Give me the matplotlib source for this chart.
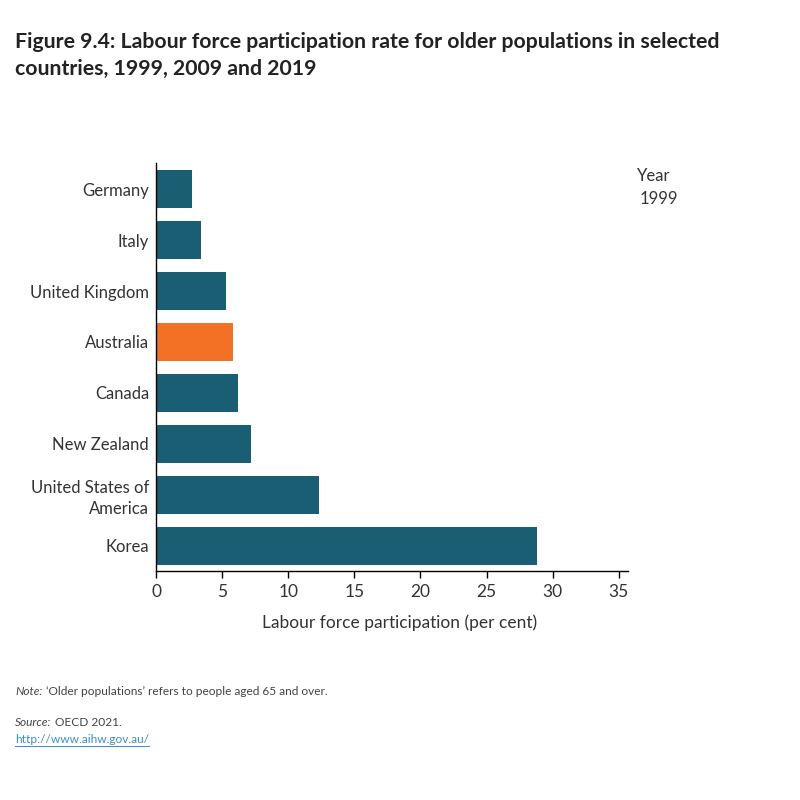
import matplotlib.pyplot as plt
from matplotlib.lines import Line2D

plt.rcParams['font.family'] = ['Lato', 'DejaVu Sans']

countries = ["Germany", "Italy", "United Kingdom", "Australia", "Canada",
             "New Zealand", "United States of\nAmerica", "Korea"]
rates_1999 = [2.7, 3.4, 5.3, 5.8, 6.2, 7.2, 12.3, 28.8]
highlight = "Australia"

teal = "#1a5e74"
orange = "#f27124"
colors = [orange if c == highlight else teal for c in countries]

fig = plt.figure(figsize=(8, 8), dpi=100)
ax = fig.add_axes([0.195, 0.286, 0.59, 0.51])

ypos = list(range(len(countries)))
ax.barh(ypos, rates_1999, height=0.745, color=colors)
ax.set_ylim(len(countries) - 0.5, -0.51)
ax.set_xlim(0, 35.7)
ax.set_xticks([0, 5, 10, 15, 20, 25, 30, 35])
ax.set_yticks(ypos)
ax.set_yticklabels(countries, fontsize=12, color="#333333", linespacing=1.35)
ax.tick_params(axis='y', length=0, pad=5)
ax.tick_params(axis='x', length=5, width=1, labelsize=12.5, labelcolor="#333333", pad=4)
for s in ["top", "right"]:
    ax.spines[s].set_visible(False)
ax.spines["left"].set_linewidth(1)
ax.spines["bottom"].set_linewidth(1)
ax.set_xlabel("Labour force participation (per cent)", fontsize=12.5, color="#333333")
ax.xaxis.set_label_coords(0.517, -0.107)

fig.text(0.019, 0.947, "Figure 9.4: Labour force participation rate for older populations in selected",
         fontsize=15.3, fontweight="bold", color="#222222", va="center")
fig.text(0.019, 0.914, "countries, 1999, 2009 and 2019",
         fontsize=15.3, fontweight="bold", color="#222222", va="center")

fig.text(0.796, 0.780, "Year", fontsize=12, color="#333333", va="center")
fig.text(0.799, 0.751, "1999", fontsize=12, color="#333333", va="center")

fs = 8.6
fig.canvas.draw()
r = fig.canvas.get_renderer()


def run(x, y, parts):
    # place pieces of text one after the other on a line
    for txt, st in parts:
        t = fig.text(x, y, txt, fontsize=fs, style=st, color="#444444", va="center")
        bb = t.get_window_extent(renderer=r)
        x += bb.width / fig.bbox.width


run(0.019, 0.136, [("Note:", "italic"),
                   (" \u2018Older populations\u2019 refers to people aged 65 and over.", "normal")])
run(0.019, 0.097, [("Source:", "italic"), (" OECD 2021.", "normal")])
link = fig.text(0.019, 0.076, "http://www.aihw.gov.au/", fontsize=fs, color="#3a8fc4", va="center")
bb = link.get_window_extent(renderer=r)
fig.add_artist(Line2D([bb.x0 / 800, bb.x1 / 800], [(bb.y0 - 1) / 800] * 2,
                      color="#3a8fc4", lw=0.7))

fig.savefig("out.png", dpi=100)
